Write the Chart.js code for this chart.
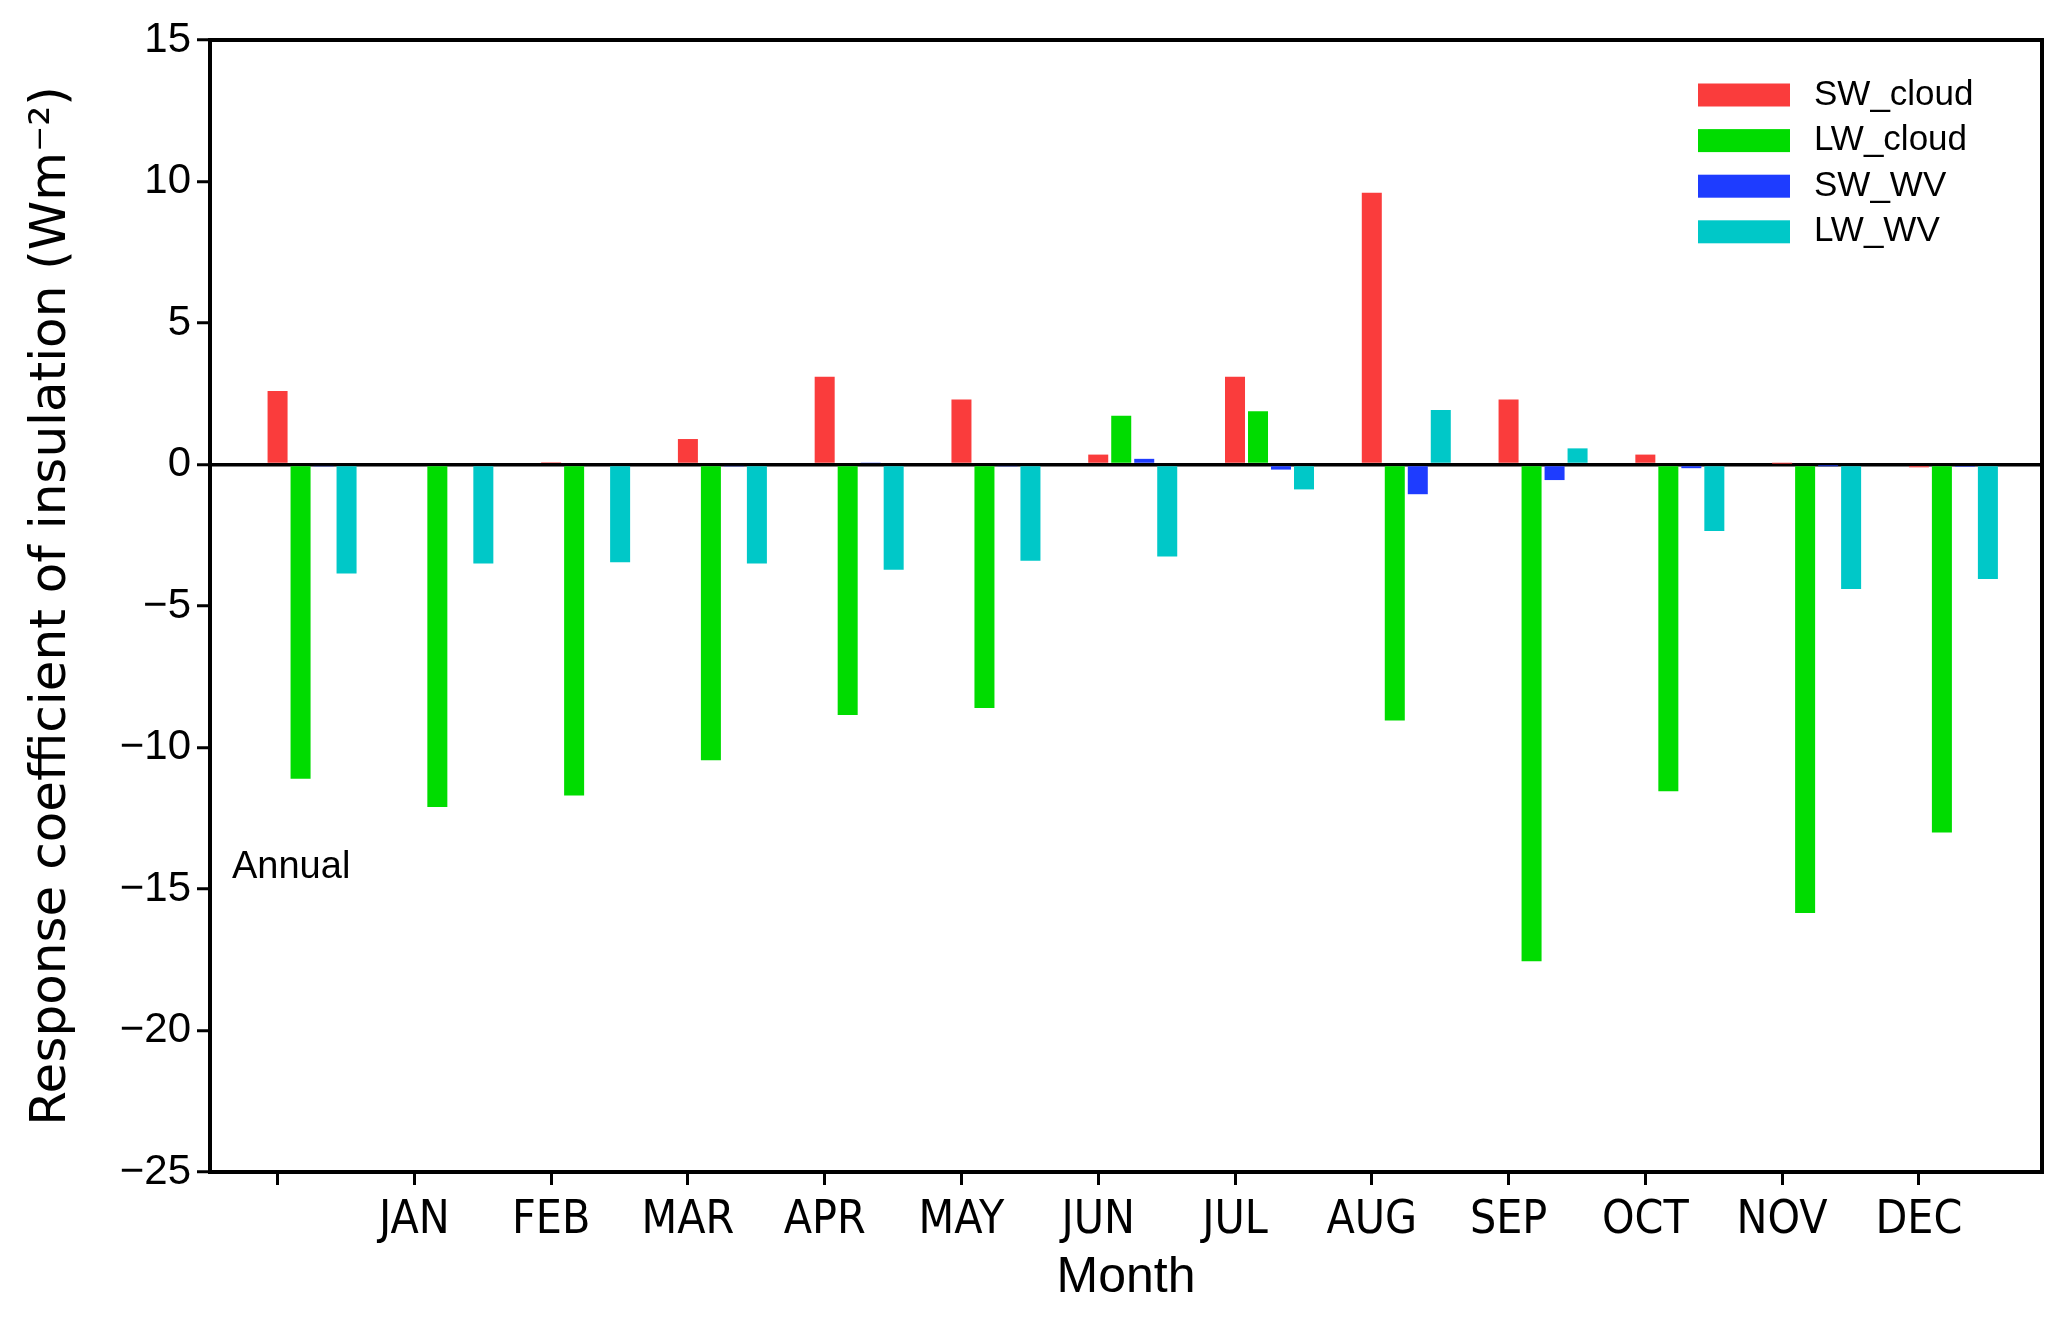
<!DOCTYPE html>
<html>
<head>
<meta charset="utf-8">
<script src="https://cdn.jsdelivr.net/npm/chart.js@4.4.1/dist/chart.umd.min.js"></script>
<style>
    body { margin: 0; background: #fff; }
    #wrap { width: 2067px; height: 1320px; }
</style>
</head>
<body>
<div id="wrap"><canvas id="chartResponse" width="2067" height="1320"></canvas></div>
<script>
// first slot is the annual mean, it has no tick label
const months = ['', 'JAN', 'FEB', 'MAR', 'APR', 'MAY', 'JUN', 'JUL', 'AUG', 'SEP', 'OCT', 'NOV', 'DEC'];
const swCloud = [2.6, 0, 0.08, 0.9, 3.1, 2.3, 0.35, 3.1, 9.6, 2.3, 0.35, 0.03, -0.1];
const lwCloud = [-11.1, -12.1, -11.7, -10.45, -8.85, -8.6, 1.72, 1.88, -9.05, -17.55, -11.55, -15.85, -13.0];
const swWv = [-0.05, 0, 0, -0.05, 0.05, -0.05, 0.2, -0.18, -1.05, -0.55, -0.13, -0.03, -0.08];
const lwWv = [-3.85, -3.5, -3.45, -3.5, -3.72, -3.4, -3.25, -0.88, 1.93, 0.57, -2.35, -4.4, -4.05];
const seriesNames = ['SW_cloud', 'LW_cloud', 'SW_WV', 'LW_WV'];
const seriesColors = ['rgb(250,60,60)', 'rgb(0,220,0)', 'rgb(30,60,255)', 'rgb(0,200,200)'];

const ResponseChart = {

    construct(){
        Chart.defaults.font.family = '"Liberation Sans", Arial, sans-serif';
        Chart.defaults.color = '#000';

        let datasets = [];
        // three empty slots in front, so the SW_cloud bar lands on the month tick
        for (let i = 0; i < 3; i++) {
            datasets.push({ label: '', data: [] });
        }
        const series = [swCloud, lwCloud, swWv, lwWv];
        series.forEach((values, k) => {
            datasets.push({
                label: seriesNames[k],
                data: values.map((v, i) => ({ x: i, y: v })),
                backgroundColor: seriesColors[k],
                borderWidth: 0
            })
        })

        const ctx = document.getElementById('chartResponse');
        const myChart = new Chart(ctx, {
            type: 'bar',
            data: { datasets: datasets },
            options: {
                responsive: false,
                animation: false,
                devicePixelRatio: 1,
                categoryPercentage: 1.177,
                barPercentage: 0.87,
                layout: {
                    padding: { left: 0, top: 40, right: 25, bottom: 0 }
                },
                plugins: {
                    legend: { display: false },
                    tooltip: { enabled: false }
                },
                scales: {
                    x: {
                        type: 'linear',
                        min: -0.494,
                        max: 12.9,
                        offset: false,
                        afterFit(scale){ scale.height = 148 },
                        afterBuildTicks(scale){
                            scale.ticks = scale.ticks.filter(t => Number.isInteger(t.value) && t.value >= 0 && t.value < months.length)
                        },
                        border: { display: false },
                        grid: {
                            offset: false,
                            drawOnChartArea: false,
                            color: '#000',
                            tickColor: '#000',
                            tickWidth: 3,
                            tickLength: 13
                        },
                        ticks: {
                            stepSize: 1,
                            includeBounds: false,
                            autoSkip: false,
                            maxRotation: 0,
                            padding: 8,
                            font: { size: 46, family: '"Liberation Sans Narrow", "DejaVu Sans Condensed", "Liberation Sans", sans-serif' },
                            callback: (v) => months[v]
                        },
                        title: {
                            display: true,
                            text: 'Month',
                            font: { size: 50 },
                            padding: { top: 0, bottom: 12 }
                        }
                    },
                    y: {
                        min: -25,
                        max: 15,
                        z: 1,
                        afterFit(scale){ scale.width = 210 },
                        border: { display: false },
                        grid: {
                            color: (c) => c.tick && c.tick.value === 0 ? '#000' : 'rgba(0,0,0,0)',
                            lineWidth: 3.5,
                            tickColor: '#000',
                            tickWidth: 3,
                            tickLength: 13
                        },
                        ticks: {
                            stepSize: 5,
                            padding: 6,
                            font: { size: 42 },
                            callback: (v) => v < 0 ? '\u2212' + Math.abs(v) : '' + v
                        },
                        title: {
                            display: true,
                            text: 'Response coefficient of insulation (Wm\u207B\u00B2)',
                            font: { size: 50, family: '"DejaVu Sans", "Liberation Sans", sans-serif' },
                            padding: { top: 22, bottom: 0 }
                        }
                    }
                }
            },
            plugins: [ResponseChart.framePlugin, ResponseChart.legendPlugin]
        });
    },

    framePlugin: {
        id: 'frame',
        afterDraw(chart){
            const { ctx, chartArea } = chart;
            ctx.save();
            ctx.strokeStyle = '#000';
            ctx.lineWidth = 4;
            ctx.strokeRect(chartArea.left, chartArea.top, chartArea.right - chartArea.left, chartArea.bottom - chartArea.top);
            ctx.restore();
        }
    },

    legendPlugin: {
        id: 'boxLegend',
        afterDraw(chart){
            const { ctx, chartArea } = chart;
            const items = chart.data.datasets.filter(d => d.label);
            ctx.save();
            ctx.textBaseline = 'middle';
            ctx.textAlign = 'left';
            ctx.font = '35px "Liberation Sans", Arial, sans-serif';
            items.forEach((d, i) => {
                const y = chartArea.top + 55 + i * 45.6;
                ctx.fillStyle = d.backgroundColor;
                ctx.fillRect(chartArea.right - 344, y - 11.5, 92, 23);
                ctx.fillStyle = '#000';
                ctx.fillText(d.label, chartArea.right - 228, y);
            })
            // panel tag
            ctx.font = '38px "Liberation Sans", Arial, sans-serif';
            ctx.fillText('Annual', chartArea.left + 22, chart.scales.y.getPixelForValue(-14.25));
            ctx.restore();
        }
    }
}

ResponseChart.construct()
</script>
</body>
</html>
